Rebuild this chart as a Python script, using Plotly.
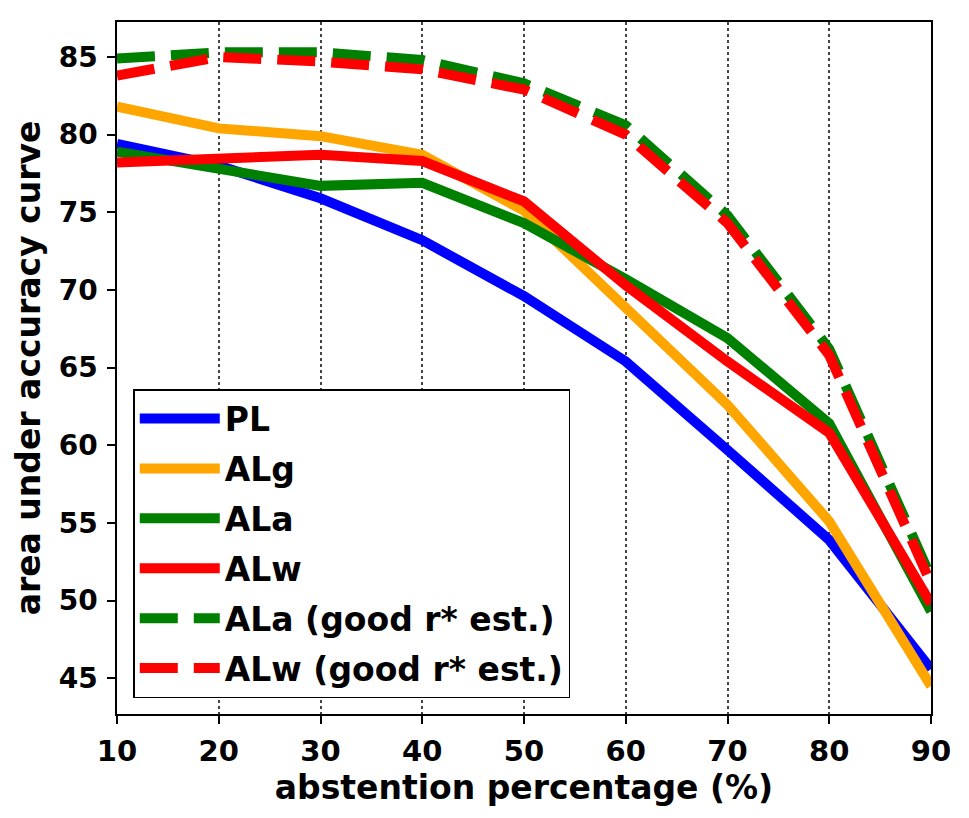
import plotly.graph_objects as go

x_vals = [10, 20, 30, 40, 50, 60, 70, 80, 90]
PL = [79.4, 78.0, 75.9, 73.2, 69.6, 65.4, 59.7, 53.9, 45.6]
ALg = [81.8, 80.4, 79.9, 78.7, 75.1, 68.8, 62.6, 55.1, 44.5]
ALa = [78.9, 77.8, 76.7, 76.9, 74.3, 70.7, 66.9, 61.4, 49.3]
ALw = [78.2, 78.5, 78.7, 78.3, 75.7, 70.3, 65.4, 60.8, 49.8]
ALa_good = [84.9, 85.3, 85.3, 84.8, 83.3, 80.6, 74.8, 66.2, 51.5]
ALw_good = [83.8, 85.0, 84.7, 84.2, 82.9, 80.0, 74.3, 65.8, 51.1]

series = [
    ("PL", PL, "#0000ff", "solid"),
    ("ALg", ALg, "#ffa500", "solid"),
    ("ALa", ALa, "#008000", "solid"),
    ("ALw", ALw, "#ff0000", "solid"),
    ("ALa (good r* est.)", ALa_good, "#008000", "38px,16px"),
    ("ALw (good r* est.)", ALw_good, "#ff0000", "38px,16px"),
]

fig = go.Figure()
for i, (name, vals, color, dash) in enumerate(series):
    fig.add_trace(go.Scatter(
        x=x_vals, y=vals, name=name, mode="lines",
        line=dict(color=color, width=10, dash=dash),
        legendgroup=f"g{i}",
    ))

font_main = "DejaVu Sans, Arial, sans-serif"
fig.update_layout(
    width=969, height=818,
    margin=dict(l=117, r=38, t=22, b=104),
    plot_bgcolor="white", paper_bgcolor="white",
    font=dict(family=font_main, color="black"),
    showlegend=True,
    legend=dict(
        x=0.02, y=0.023, xanchor="left", yanchor="bottom",
        bgcolor="white", bordercolor="black", borderwidth=1.5,
        font=dict(size=33, family=font_main, weight="bold"),
        tracegroupgap=4, traceorder="grouped", itemwidth=80,
    ),
)
fig.update_xaxes(
    range=[10, 90], tickmode="array", tickvals=x_vals,
    ticktext=[str(v) for v in x_vals],
    showline=True, linecolor="black", linewidth=1.5, mirror=True,
    ticks="outside", ticklen=8, tickwidth=1.5, tickcolor="black",
    showgrid=True, gridcolor="#444444", griddash="dot", gridwidth=1.5,
    zeroline=False,
    ticklabelstandoff=2,
    tickfont=dict(size=29, family=font_main, weight="bold"),
    title=dict(text="abstention percentage (%)", standoff=6,
               font=dict(size=33, family=font_main, weight="bold")),
)
fig.update_yaxes(
    range=[42.7, 87.25], tickmode="array", tickvals=[45, 50, 55, 60, 65, 70, 75, 80, 85],
    showline=True, linecolor="black", linewidth=1.5, mirror=True,
    ticks="outside", ticklen=8, tickwidth=1.5, tickcolor="black",
    showgrid=False, zeroline=False,
    ticklabelstandoff=4,
    tickfont=dict(size=28, family=font_main, weight="bold"),
    title=dict(text="area under accuracy curve", standoff=8,
               font=dict(size=33, family=font_main, weight="bold")),
)

fig.write_html("out.html")
